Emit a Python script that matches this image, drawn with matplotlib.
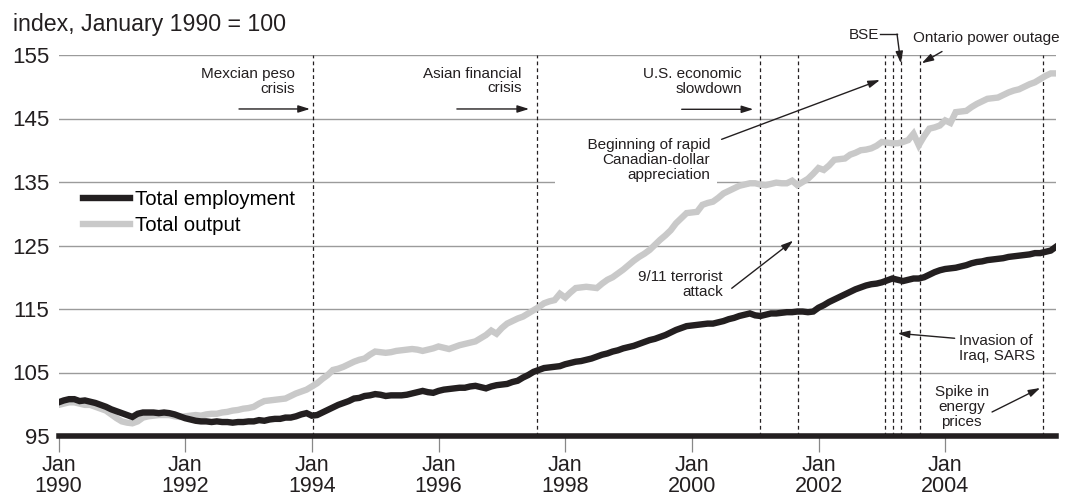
import numpy as np
import matplotlib
matplotlib.use("Agg")
import matplotlib.pyplot as plt
from matplotlib.lines import Line2D

plt.rcParams['font.family'] = ['Liberation Sans', 'DejaVu Sans']

# ---------------- data (monthly, Jan 1990 .. Oct 2005) ----------------
start_year = 1990
employment = [
    100.3, 100.6, 100.8, 100.8, 100.5, 100.6, 100.4, 100.2, 99.9, 99.6, 99.2, 98.9,
    98.6, 98.3, 98.0, 98.5, 98.7, 98.7, 98.7, 98.6, 98.7, 98.6, 98.4, 98.1,
    97.8, 97.6, 97.4, 97.3, 97.3, 97.2, 97.3, 97.2, 97.2, 97.1, 97.2, 97.2,
    97.3, 97.3, 97.5, 97.4, 97.6, 97.7, 97.7, 97.9, 97.9, 98.1, 98.4, 98.6,
    98.2, 98.3, 98.7, 99.1, 99.5, 99.9, 100.2, 100.5, 100.9, 101.0, 101.3, 101.4,
    101.6, 101.5, 101.3, 101.4, 101.4, 101.4, 101.5, 101.7, 101.9, 102.1, 101.9, 101.8,
    102.1, 102.3, 102.4, 102.5, 102.6, 102.6, 102.8, 102.9, 102.7, 102.5, 102.8, 103.0,
    103.1, 103.2, 103.5, 103.7, 104.2, 104.6, 105.1, 105.4, 105.7, 105.8, 105.9, 106.0,
    106.3, 106.5, 106.7, 106.8, 107.0, 107.2, 107.5, 107.8, 108.0, 108.3, 108.5, 108.8,
    109.0, 109.2, 109.5, 109.8, 110.1, 110.3, 110.6, 110.9, 111.3, 111.7, 112.0, 112.3,
    112.4, 112.5, 112.6, 112.7, 112.7, 112.9, 113.1, 113.4, 113.6, 113.9, 114.1, 114.3,
    114.0, 113.9, 114.1, 114.3, 114.3, 114.4, 114.5, 114.5, 114.6, 114.6, 114.5, 114.6,
    115.2, 115.6, 116.1, 116.5, 116.9, 117.3, 117.7, 118.1, 118.4, 118.7, 118.9, 119.0,
    119.2, 119.5, 119.8, 119.6, 119.4, 119.6, 119.8, 119.8, 120.0, 120.4, 120.8, 121.1,
    121.3, 121.4, 121.5, 121.7, 121.9, 122.2, 122.4, 122.5, 122.7, 122.8, 122.9, 123.0,
    123.2, 123.3, 123.4, 123.5, 123.6, 123.8, 123.8, 124.0, 124.2, 124.8,
]
output = [
    99.9, 100.1, 100.3, 100.3, 100.1, 99.9, 99.9, 99.6, 99.3, 99.0, 98.4, 97.8,
    97.3, 97.1, 97.0, 97.3, 97.9, 98.1, 98.2, 98.3, 98.3, 98.3, 98.1, 98.0,
    98.1, 98.2, 98.3, 98.2, 98.4, 98.5, 98.5, 98.7, 98.8, 99.0, 99.1, 99.3,
    99.4, 99.6, 100.1, 100.5, 100.6, 100.7, 100.8, 100.9, 101.3, 101.7, 102.0, 102.3,
    102.8, 103.3, 104.0, 104.6, 105.4, 105.6, 105.9, 106.3, 106.7, 107.0, 107.2, 107.8,
    108.3, 108.2, 108.1, 108.2, 108.4, 108.5, 108.6, 108.7, 108.6, 108.4, 108.6, 108.8,
    109.1, 108.9, 108.7, 109.0, 109.3, 109.5, 109.7, 109.9, 110.4, 110.9, 111.6, 111.1,
    112.0, 112.7, 113.1, 113.5, 113.8, 114.3, 114.8, 115.3, 115.9, 116.2, 116.4, 117.4,
    116.8, 117.6, 118.3, 118.4, 118.5, 118.4, 118.3, 119.0, 119.6, 120.0, 120.6, 121.2,
    121.9, 122.6, 123.2, 123.7, 124.3, 125.1, 125.9, 126.6, 127.4, 128.5, 129.3, 130.1,
    130.2, 130.3, 131.4, 131.7, 131.9, 132.5, 133.2, 133.6, 134.0, 134.4, 134.6, 134.8,
    134.8, 134.6, 134.5, 134.7, 134.9, 134.8, 134.8, 135.2, 134.5, 135.0, 135.5, 136.3,
    137.2, 136.9, 137.6, 138.5, 138.6, 138.7, 139.3, 139.6, 140.0, 140.1, 140.3, 140.7,
    141.3, 141.2, 141.1, 141.1, 141.3, 141.6, 142.6, 140.8, 142.2, 143.4, 143.6, 143.9,
    144.7, 144.3, 146.0, 146.1, 146.2, 146.8, 147.3, 147.7, 148.1, 148.2, 148.3, 148.7,
    149.1, 149.4, 149.6, 150.0, 150.4, 150.7, 151.2, 151.7, 152.1, 152.1,
]
event_dates = [1994.02, 1997.55, 2001.08, 2001.67, 2003.05, 2003.18, 2003.30, 2003.61, 2005.55]
year_ticks = [1990, 1992, 1994, 1996, 1998, 2000, 2002, 2004]
y_ticks = [95, 105, 115, 125, 135, 145, 155]
series_labels = ["Total employment", "Total output"]

t = start_year + np.arange(len(employment)) / 12.0

BLACK = '#231f20'
GREY = '#c9c9c9'
GRID = '#9b9b9b'

W, H = 1066, 496
fig = plt.figure(figsize=(W / 100, H / 100), dpi=100)
ax = fig.add_axes([58.5 / W, 1 - 436 / H, (1056 - 58.5) / W, (436 - 55) / H])
ax.set_xlim(1990, 2005.75)
ax.set_ylim(95, 155)

# grid
for yv in y_ticks[1:]:
    ax.axhline(yv, color=GRID, lw=1.0, zorder=1)

# event lines
for d in event_dates:
    ax.axvline(d, color=BLACK, lw=0.9, ls=(0, (3, 2.5)), zorder=1.5)

ax.plot(t, output, color=GREY, lw=4.6, solid_joinstyle='miter', zorder=4)
ax.plot(t, employment, color=BLACK, lw=4.6, solid_joinstyle='miter', zorder=4)

for s in ['top', 'right', 'left']:
    ax.spines[s].set_visible(False)
ax.spines['bottom'].set_linewidth(4.0)
ax.spines['bottom'].set_color(BLACK)
ax.spines['bottom'].set_zorder(5)

ax.set_xticks(year_ticks)
ax.set_xticklabels([f"Jan\n{y}" for y in year_ticks], fontsize=15.5, linespacing=1.0, color='#231f20')
ax.tick_params(axis='x', length=11.5, width=0.9, color='#888888', pad=2)
ax.set_yticks(y_ticks)
ax.set_yticklabels([str(v) for v in y_ticks], fontsize=16, color='#231f20')
ax.tick_params(axis='y', length=0, pad=6.5)

fig.text(13 / W, 1 - 25 / H, "index, January 1990 = 100", fontsize=16.7, va='center', ha='left', color='#231f20')

# legend
handles = [Line2D([], [], color=BLACK, lw=4.6), Line2D([], [], color=GREY, lw=4.6)]
ax.legend(handles, series_labels, loc='upper left', bbox_to_anchor=(83 / W, 1 - 190 / H),
          bbox_transform=fig.transFigure, frameon=False, fontsize=14.7, borderpad=0,
          borderaxespad=0, handlelength=2.3, handletextpad=0.25, labelspacing=0.36)

AFS = 11
ap = dict(arrowstyle='-|>,head_length=0.7,head_width=0.22', lw=1.0, color=BLACK,
          shrinkA=0, shrinkB=0)
tk = dict(fontsize=AFS, color=BLACK, linespacing=1.05, zorder=3)

def arrow(x0, y0, x1, y1):
    ax.annotate('', xy=(x1, y1), xytext=(x0, y0), arrowprops=ap, annotation_clip=False, zorder=3)

ax.text(1993.73, 150.8, "Mexcian peso\ncrisis", ha='right', va='center', multialignment='right', **tk)
arrow(1992.85, 146.5, 1993.97, 146.5)
ax.text(1997.31, 150.9, "Asian financial\ncrisis", ha='right', va='center', multialignment='right', **tk)
arrow(1996.29, 146.5, 1997.43, 146.5)
ax.text(2000.79, 150.8, "U.S. economic\nslowdown", ha='right', va='center', multialignment='right', **tk)
arrow(1999.84, 146.45, 2000.97, 146.45)

ax.text(2000.29, 138.47, "      Beginning of rapid\nCanadian-dollar\nappreciation", ha='right', va='center',
        multialignment='right', bbox=dict(facecolor='white', edgecolor='none', pad=5), **tk)
arrow(2000.47, 141.72, 2002.97, 151.06)

ax.text(2000.49, 118.86, "9/11 terrorist\nattack", ha='right', va='center', multialignment='right', **tk)
arrow(2000.63, 118.26, 2001.60, 125.76)

ax.text(2002.96, 158.15, "BSE", ha='right', va='center', clip_on=False, **tk)
ax.plot([2002.97, 2003.24], [158.3, 158.3], color=BLACK, lw=1.0, clip_on=False)
arrow(2003.24, 158.3, 2003.30, 153.7)

ax.text(2003.49, 157.6, "Ontario power outage", ha='left', va='center', clip_on=False, **tk)
arrow(2003.95, 155.55, 2003.63, 153.7)

ax.text(2004.22, 108.78, "Invasion of\nIraq, SARS", ha='left', va='center', multialignment='left', **tk)
arrow(2004.15, 110.39, 2003.25, 111.17)

ax.text(2004.26, 99.57, "Spike in\nenergy\nprices", ha='center', va='center', multialignment='center', **tk)
arrow(2004.74, 98.78, 2005.50, 102.56)

fig.savefig("out.png", dpi=100)
